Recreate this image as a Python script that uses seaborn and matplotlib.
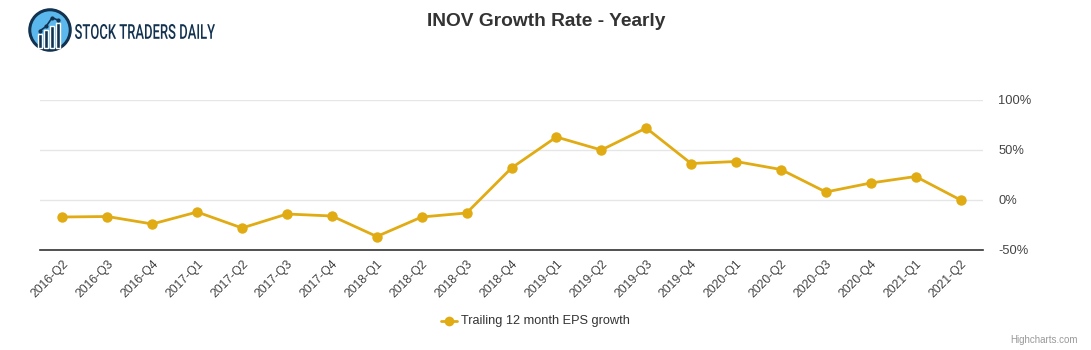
import matplotlib
matplotlib.use("Agg")
import matplotlib.pyplot as plt
import seaborn as sns
import pandas as pd
from matplotlib.patches import Circle, Rectangle, PathPatch
from matplotlib.textpath import TextPath
from matplotlib.font_manager import FontProperties
from matplotlib.transforms import Affine2D

quarters = ["2016-Q2", "2016-Q3", "2016-Q4", "2017-Q1", "2017-Q2", "2017-Q3", "2017-Q4",
            "2018-Q1", "2018-Q2", "2018-Q3", "2018-Q4", "2019-Q1", "2019-Q2", "2019-Q3",
            "2019-Q4", "2020-Q1", "2020-Q2", "2020-Q3", "2020-Q4", "2021-Q1", "2021-Q2"]
growth = [-17, -16.5, -24, -12, -28, -14, -16, -36.5, -17, -13, 32, 63, 50, 72,
          36.5, 38.5, 30.5, 8, 17, 23.5, 0]
y_ticks = [-50, 0, 50, 100]
y_tick_labels = ["-50%", "0%", "50%", "100%"]
series_name = "Trailing 12 month EPS growth"
title = "INOV Growth Rate - Yearly"

df = pd.DataFrame({"quarter": quarters, "growth": growth, "idx": range(len(quarters))})

sns.set_theme(style="white")
plt.rcParams['font.family'] = ['Liberation Sans', 'DejaVu Sans']

W, H = 1091, 350
fig = plt.figure(figsize=(W / 100, H / 100), dpi=100)
ax = fig.add_axes([40 / W, 1 - 250 / H, (983 - 40) / W, 150 / H])

color = "#e1ab14"
sns.lineplot(data=df, x="idx", y="growth", ax=ax, color=color, linewidth=2,
             marker="o", markersize=7.5, markeredgewidth=0, label=series_name, legend=False)

ax.set_xlim(-0.5, len(quarters) - 0.5)
ax.set_ylim(-50, 100)
ax.set_yticks(y_ticks)
ax.set_yticklabels(y_tick_labels)
ax.yaxis.tick_right()
ax.tick_params(axis="y", length=0, pad=11, labelsize=9.3, labelcolor="#444444")
ax.set_xticks(range(len(quarters)))
ax.set_xticklabels(quarters, rotation=45, ha="right", rotation_mode="anchor",
                   fontsize=8.8, color="#444444")
ax.tick_params(axis="x", length=0, pad=6)
ax.set_xlabel("")
ax.set_ylabel("")
ax.grid(axis="y", color="#e6e6e6", linewidth=1)
ax.grid(axis="x", visible=False)
for s in ["top", "left", "right"]:
    ax.spines[s].set_visible(False)
ax.spines["bottom"].set_color("#333333")
ax.spines["bottom"].set_linewidth(1.2)
ax.set_axisbelow(True)

fig.text(546 / W, 1 - 22 / H, title, ha="center", va="center", fontsize=13.8,
         fontweight="bold", color="#333333")

# legend
leg_y = 1 - 321 / H
fig.lines.append(plt.Line2D([441 / W, 457 / W], [leg_y, leg_y], color=color, lw=2,
                            transform=fig.transFigure))
fig.lines.append(plt.Line2D([449 / W], [leg_y], color=color, marker="o", markersize=7,
                            markeredgewidth=0, transform=fig.transFigure))
fig.text(461 / W, leg_y, series_name, ha="left", va="center", fontsize=9.2, color="#333333")

fig.text(1078 / W, 1 - 340 / H, "Highcharts.com", ha="right", va="center", fontsize=7,
         color="#999999")

# logo
lax = fig.add_axes([28 / W, 1 - 52 / H, 44 / W, 44 / H])
lax.set_xlim(0, 1)
lax.set_ylim(0, 1)
lax.set_aspect("equal")
lax.axis("off")
lax.add_patch(Circle((0.5, 0.5), 0.46, facecolor="#5bb8ec", edgecolor="#12324f", lw=2.2))
for bx, bh in [(0.27, 0.3), (0.41, 0.4), (0.55, 0.5), (0.69, 0.56)]:
    lax.add_patch(Rectangle((bx - 0.045, 0.1), 0.09, bh, facecolor="#12324f"))
lax.plot([0.27, 0.41, 0.55, 0.69], [0.48, 0.58, 0.78, 0.72], color="#12324f", lw=1.2,
         marker="o", markersize=2)

# condensed logo text drawn as a path
fp = FontProperties(family=["Roboto", "DejaVu Sans"], weight="medium")
tp = TextPath((0, 0), "STOCK TRADERS DAILY", size=20, prop=fp)
bb = tp.get_extents()
target_w, target_h = 140.0, 15.0
sx = target_w / bb.width
sy = target_h / bb.height
trans = Affine2D().translate(-bb.x0, -bb.y0).scale(sx, sy).translate(75, H - 39)
path = trans.transform_path(tp)
fig.patches.append(PathPatch(path, facecolor="#12324f", edgecolor="none",
                             transform=None))

fig.savefig("out.png", dpi=100)
